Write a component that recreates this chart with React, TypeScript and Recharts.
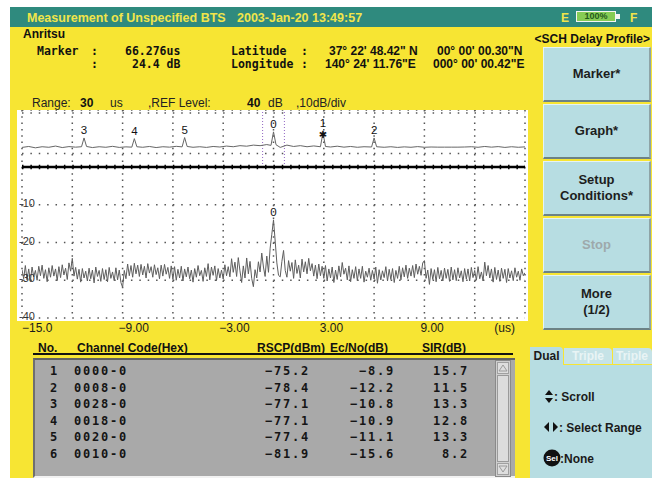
import { LineChart, Line, XAxis, YAxis, CartesianGrid, ReferenceLine } from 'recharts'

// ── delay profile (lower trace), dB, one sample every 0.1 us from -15 us ──────
const SAMPLE_START = -15
const SAMPLE_STEP = 0.1
const profileLevel = [
  -27.2, -29.6, -26.1, -29.9, -27.0, -30.3, -26.5, -29.1, -27.4, -30.0,
  -26.3, -28.8, -26.0, -29.5, -27.2, -30.4, -26.7, -29.2, -26.1, -28.9,
  -27.0, -30.1, -26.4, -29.3, -25.9, -28.6, -26.8, -29.8, -25.4, -27.6,
  -24.2, -28.9, -26.6, -29.7, -27.1, -30.5, -26.9, -29.4, -27.6, -30.2,
  -26.8, -29.6, -27.3, -30.7, -26.5, -29.0, -27.4, -30.3, -26.9, -29.8,
  -27.2, -30.4, -26.6, -29.5, -27.8, -30.1, -26.7, -29.9, -27.3, -30.6,
  -31.9, -27.4, -29.6, -25.7, -28.8, -26.1, -29.2, -25.5, -28.3, -26.0,
  -29.0, -25.8, -28.6, -26.3, -29.4, -25.6, -28.1, -26.4, -29.2, -25.9,
  -28.5, -26.7, -29.6, -26.0, -28.9, -25.8, -28.4, -26.6, -29.5, -26.2,
  -29.8, -26.4, -30.0, -27.1, -29.4, -26.3, -30.2, -27.0, -29.1, -26.5,
  -29.6, -27.3, -30.5, -26.9, -29.2, -26.1, -28.8, -27.4, -30.3, -26.7,
  -29.0, -25.6, -29.9, -26.5, -28.7, -26.2, -30.1, -26.9, -29.4, -27.3,
  -29.7, -25.9, -28.8, -26.4, -29.1, -24.3, -27.9, -25.2, -29.0, -24.0,
  -27.5, -30.6, -26.2, -29.4, -24.1, -28.3, -25.0, -29.5, -31.7, -27.2,
  -29.4, -25.1, -27.8, -22.8, -26.5, -29.0, -23.6, -27.9, -21.5, -17.8,
  -14.0, -19.6, -25.4, -28.7, -29.1, -25.0, -22.1, -27.4, -29.2, -24.8,
  -27.6, -25.3, -29.5, -24.6, -28.2, -26.0, -29.4, -24.4, -27.8, -25.1,
  -28.3, -24.2, -27.5, -25.6, -28.9, -26.0, -29.6, -25.7, -28.8, -26.3,
  -29.5, -26.1, -30.2, -27.0, -29.4, -26.5, -30.6, -27.3, -29.8, -26.2,
  -29.1, -25.3, -28.4, -26.8, -29.9, -26.2, -30.4, -27.2, -29.5, -26.4,
  -30.1, -27.0, -29.5, -26.3, -30.5, -27.6, -29.2, -26.8, -30.0, -27.4,
  -29.7, -26.5, -30.8, -27.2, -29.9, -27.5, -29.3, -26.4, -30.2, -27.1,
  -29.8, -26.9, -30.6, -27.4, -29.5, -26.3, -29.9, -26.7, -29.1, -26.0,
  -29.5, -26.8, -28.9, -26.1, -29.3, -25.7, -28.4, -26.3, -28.7, -25.4,
  -24.8, -29.5, -27.3, -31.1, -26.9, -29.8, -27.2, -30.4, -26.6, -29.6,
  -27.4, -30.2, -26.8, -29.5, -27.1, -30.3, -26.5, -29.9, -27.2, -30.1,
  -26.7, -29.4, -27.5, -30.4, -26.9, -29.7, -27.0, -30.2, -26.6, -29.3,
  -27.4, -30.0, -26.4, -29.6, -27.8, -30.2, -25.2, -28.8, -26.1, -29.4,
  -27.0, -30.5, -26.6, -29.8, -27.3, -30.3, -26.8, -29.5, -27.1, -30.6,
  -26.9, -29.4, -27.5, -30.1, -26.7, -29.2, -27.6, -30.0, -27.0, -28.8,
  -28.0,
]

// ── overview (upper trace), in grid rows above the divider ─────────────────────
const overviewTime = [
  -15, -14.6, -14.2, -13.8, -13.4, -13, -12.6, -12.2, -11.8, -11.45, -11.3, -11.15, -10.8, -10.4, -10, -9.6,
  -9.2, -8.8, -8.45, -8.3, -8.15, -7.8, -7.4, -7, -6.6, -6.2, -5.8, -5.45, -5.3, -5.15, -4.8, -4.4, -4,
  -3.6, -3.2, -2.8, -2.4, -2, -1.6, -1.2, -0.8, -0.4, -0.15, 0, 0.15, 0.4, 0.8, 1.2, 1.6, 2, 2.4, 2.8,
  2.95, 3.1, 3.4, 3.8, 4.2, 4.6, 5, 5.4, 5.85, 6, 6.15, 6.6, 7, 7.4, 7.8, 8.2, 8.6, 9, 9.4, 9.8, 10.2,
  10.6, 11, 11.4, 11.8, 12.2, 12.6, 13, 13.4, 13.8, 14.2, 14.6, 15,
]
const overviewLevel = [
  1.45, 1.52, 1.42, 1.5, 1.46, 1.55, 1.44, 1.51, 1.47, 1.5, 2.15, 1.52, 1.44, 1.5, 1.46, 1.53,
  1.45, 1.49, 1.47, 2.1, 1.5, 1.46, 1.52, 1.44, 1.5, 1.47, 1.53, 1.49, 2.18, 1.52, 1.46, 1.5, 1.45,
  1.52, 1.48, 1.55, 1.5, 1.58, 1.54, 1.62, 1.58, 1.66, 1.6, 2.6, 1.65, 1.45, 1.62, 1.52, 1.58, 1.5, 1.56, 1.5,
  2.55, 1.52, 1.48, 1.54, 1.47, 1.52, 1.46, 1.5, 1.48, 2.15, 1.5, 1.46, 1.5, 1.45, 1.49, 1.46, 1.51, 1.46, 1.48, 1.47, 1.47,
  1.47, 1.47, 1.48, 1.5, 1.46, 1.52, 1.47, 1.51, 1.45, 1.5, 1.46, 1.49,
]
const peakTime = [-11.3, -8.3, -5.3, 0, 2.95, 6]
const peakName = ['3', '4', '5', '0', '1', '2']
const MARKED_PEAK = '1'
const rangeEdges = [-0.65, 0.65]

// ── axes ─────────────────────────────────────────────────────────────────────
const gridTicks = [-15, -12, -9, -6, -3, 0, 3, 6, 9, 12, 15]
const timeTicks = [-15, -9, -3, 3, 9, 15]
const timeLabels = ['−15.0', '−9.00', '−3.00', '3.00', '9.00', '(us)']
const levelTicks = [-40, -30, -20, -10]
const levelLabels = ['-40', '-30', '-20', '-10']
const overviewRows = [1, 2, 3, 4]

// ── channel table ────────────────────────────────────────────────────────────
const rowNo = [1, 2, 3, 4, 5, 6]
const channelCode = ['0000-0', '0008-0', '0028-0', '0018-0', '0020-0', '0010-0']
const rscp = [-75.2, -78.4, -77.1, -77.1, -77.4, -81.9]
const ecno = [-8.9, -12.2, -10.8, -10.9, -11.1, -15.6]
const sir = [15.7, 11.5, 13.3, 12.8, 13.3, 8.2]

const buttons = ['Marker*', 'Graph*', 'Setup\nConditions*', 'Stop', 'More\n(1/2)']

const YELLOW = '#f7e533'
const TEAL = '#2f8a7e'
const BTN = '#b7dde2'
const SANS = '"Liberation Sans", Arial, sans-serif'
const MONO = '"DejaVu Sans Mono", monospace'
const DOT = '#555'

const profileData = profileLevel.map((v, i) => ({ t: Math.round((SAMPLE_START + i * SAMPLE_STEP) * 10) / 10, v }))
const overviewData = overviewTime.map((t, i) => ({ t, v: overviewLevel[i] }))
const profilePeakIdx = profileLevel.indexOf(Math.max(...profileLevel))

const fmt = (v: number) => (v < 0 ? '−' : '') + Math.abs(v).toFixed(1)

function TimeTick({ x, y, payload }: any) {
  const i = timeTicks.indexOf(payload.value)
  const last = i === timeTicks.length - 1
  return (
    <text x={x} y={y} dx={last ? -10 : i === 0 ? 0 : -4} dy={13.5} textAnchor={last ? 'end' : 'start'}
      fontSize={12} fontFamily={SANS} fill="#1a1a1a">
      {timeLabels[i]}
    </text>
  )
}

function LevelTick({ x, y, payload }: any) {
  const i = levelTicks.indexOf(payload.value)
  return (
    <text x={x} y={y} dx={-3} dy={2} textAnchor="start" fontSize={11} fontFamily={SANS} fill="#333">
      {levelLabels[i]}
    </text>
  )
}

const renderOverviewLabel = (props: any) => {
  const k = peakTime.indexOf(overviewTime[props.index])
  if (k < 0) return null
  const name = peakName[k]
  return (
    <g>
      <text x={props.x} y={props.y - (name === MARKED_PEAK ? 6 : 4)} textAnchor="middle" fontSize={11.5} fontFamily={SANS} fill="#111">
        {name}
      </text>
      {name === MARKED_PEAK && (
        <text x={props.x} y={props.y + 5} textAnchor="middle" fontSize={10} fontFamily='"DejaVu Sans"' fill="#111">✱</text>
      )}
    </g>
  )
}

const renderProfileLabel = (props: any) => {
  if (props.index !== profilePeakIdx) return null
  return (
    <text x={props.x} y={props.y - 4} textAnchor="middle" fontSize={11.5} fontFamily={SANS} fill="#111">0</text>
  )
}

function Txt({ x, y, children, style }: any) {
  return <div style={{ position: 'absolute', left: x, top: y, whiteSpace: 'pre', lineHeight: '13px', ...style }}>{children}</div>
}

export default function App() {
  const info = { font: `bold 11.5px ${MONO}`, color: '#111' }
  const coord = { font: `bold 12px ${SANS}`, color: '#111' }
  const range = { font: `12px ${SANS}`, color: '#222' }
  const head = { font: `bold 12px ${SANS}`, color: '#111' }
  const cell = { font: `bold 12px ${MONO}`, color: '#151515', letterSpacing: '1.8px' }
  const panel = { font: `bold 12px ${SANS}`, color: '#1a1a1a' }

  return (
    <div style={{ position: 'absolute', left: 0, top: 0, width: 659, height: 481, background: '#fff', overflow: 'hidden' }}>
      {/* frame */}
      <div style={{ position: 'absolute', left: 10, top: 7, width: 642, height: 20, background: TEAL }} />
      <div style={{ position: 'absolute', left: 10, top: 27, width: 642, height: 451, background: YELLOW }} />

      {/* title bar */}
      <Txt x={27} y={11} style={{ font: `bold 12.5px ${SANS}`, color: '#f1e54a' }}>Measurement of Unspecified BTS</Txt>
      <Txt x={237} y={11} style={{ font: `bold 12.5px ${SANS}`, color: '#f1e54a' }}>2003-Jan-20 13:49:57</Txt>
      <Txt x={561} y={11} style={{ font: `bold 12px ${SANS}`, color: '#f1e54a' }}>E</Txt>
      <div style={{ position: 'absolute', left: 576, top: 11, width: 40, height: 11, boxSizing: 'border-box', border: '1px solid #f4f4f4', background: '#86cc55', font: `bold 9px ${SANS}`, color: '#245a1c', textAlign: 'center', lineHeight: '9px' }}>100%</div>
      <div style={{ position: 'absolute', left: 616, top: 14, width: 4, height: 5, background: '#f4f4f4' }} />
      <Txt x={630} y={11} style={{ font: `bold 12px ${SANS}`, color: '#f1e54a' }}>F</Txt>

      {/* header info */}
      <Txt x={23} y={27} style={{ font: `bold 12px ${SANS}`, color: '#111' }}>Anritsu</Txt>
      <Txt x={37} y={44} style={info}>Marker</Txt>
      <Txt x={91} y={44} style={info}>:</Txt>
      <Txt x={125} y={44} style={info}>66.276us</Txt>
      <Txt x={91} y={57} style={info}>:</Txt>
      <Txt x={132} y={57} style={info}>24.4 dB</Txt>
      <Txt x={231} y={44} style={info}>Latitude</Txt>
      <Txt x={301} y={44} style={info}>:</Txt>
      <Txt x={329} y={44} style={coord}>37° 22' 48.42" N</Txt>
      <Txt x={437} y={44} style={coord}>00° 00' 00.30"N</Txt>
      <Txt x={231} y={57} style={info}>Longitude</Txt>
      <Txt x={301} y={57} style={info}>:</Txt>
      <Txt x={325} y={57} style={coord}>140° 24' 11.76"E</Txt>
      <Txt x={433} y={57} style={coord}>000° 00' 00.42"E</Txt>
      <Txt x={530} y={32} style={{ font: `bold 12px ${SANS}`, color: '#111', width: 120, textAlign: 'right' }}>{'<SCH Delay Profile>'}</Txt>

      <Txt x={32} y={96} style={range}>Range:</Txt>
      <Txt x={80} y={96} style={{ ...range, fontWeight: 'bold', color: '#111' }}>30</Txt>
      <Txt x={110} y={96} style={range}>us</Txt>
      <Txt x={148} y={96} style={range}>,REF Level:</Txt>
      <Txt x={247} y={96} style={{ ...range, fontWeight: 'bold', color: '#111' }}>40</Txt>
      <Txt x={268} y={96} style={range}>dB</Txt>
      <Txt x={296} y={96} style={range}>,10dB/div</Txt>

      {/* soft keys */}
      {buttons.map((b, i) => (
        <div key={b} style={{
          position: 'absolute', left: 543, top: 47 + i * 57, width: 108, height: 55, boxSizing: 'border-box',
          background: BTN, borderTop: '1px solid #e6f3f4', borderLeft: '1px solid #e6f3f4',
          borderBottom: '2px solid #6c8285', borderRight: '2px solid #8ea4a7',
          display: 'flex', alignItems: 'center', justifyContent: 'center', textAlign: 'center', whiteSpace: 'pre',
          font: `bold 13px ${SANS}`, lineHeight: '16px', color: b === 'Stop' ? '#9ea9ab' : '#1d1d1d',
        }}>{b}</div>
      ))}

      {/* plot area */}
      <div style={{ position: 'absolute', left: 17, top: 110, width: 511, height: 211, background: '#fff' }} />

      <div style={{ position: 'absolute', left: 19, top: 110 }}>
        <LineChart width={508} height={57} data={overviewData} margin={{ top: 0, right: 2, bottom: 0, left: 3 }}>
          <XAxis dataKey="t" type="number" domain={[-15, 15]} ticks={gridTicks} hide allowDataOverflow />
          <YAxis type="number" domain={[0, 4.22]} ticks={overviewRows} hide allowDataOverflow />
          <CartesianGrid vertical={false} stroke={DOT} strokeWidth={1.5} strokeDasharray="1.5 6.88" />
          <CartesianGrid horizontal={false} stroke={DOT} strokeWidth={1.5} strokeDasharray="1.5 4.8" />
          {rangeEdges.map(x => (
            <ReferenceLine key={x} x={x} stroke="#9166c2" strokeWidth={1} strokeDasharray="1 2" />
          ))}
          <Line type="linear" dataKey="v" stroke="#666" strokeWidth={1} dot={false} isAnimationActive={false}
            label={renderOverviewLabel as any} />
        </LineChart>
      </div>

      <div style={{ position: 'absolute', left: 19, top: 164 }}>
        <LineChart width={508} height={176} data={profileData} margin={{ top: 3, right: 2, bottom: 0, left: 2 }}>
          <XAxis dataKey="t" type="number" domain={[-15, 15]} ticks={timeTicks} interval={0} height={22}
            tick={<TimeTick />} tickLine={false} axisLine={false} tickSize={0} tickMargin={0} allowDataOverflow />
          <XAxis xAxisId="grid" dataKey="t" type="number" domain={[-15, 15]} ticks={gridTicks} hide allowDataOverflow />
          <YAxis type="number" domain={[-40, 0]} ticks={levelTicks} interval={0} width={1}
            tick={<LevelTick />} tickLine={false} axisLine={false} tickSize={0} tickMargin={0} allowDataOverflow />
          <CartesianGrid vertical={false} stroke={DOT} strokeWidth={1.5} strokeDasharray="1.5 6.88" />
          <CartesianGrid horizontal={false} xAxisId="grid" stroke={DOT} strokeWidth={1.5} strokeDasharray="1.5 4.8" />
          <ReferenceLine y={0} stroke="#000" strokeWidth={2.5} />
          <ReferenceLine y={0} stroke="#000" strokeWidth={4.5} strokeDasharray="1.5 6.88" />
          <Line type="linear" dataKey="v" stroke="#5e5e5e" strokeWidth={1} dot={false} isAnimationActive={false}
            label={renderProfileLabel as any} />
        </LineChart>
      </div>

      {/* channel table */}
      <Txt x={38} y={341} style={head}>No.</Txt>
      <Txt x={77} y={341} style={head}>Channel Code(Hex)</Txt>
      <Txt x={257} y={341} style={head}>RSCP(dBm)</Txt>
      <Txt x={330} y={341} style={head}>Ec/No(dB)</Txt>
      <Txt x={422} y={341} style={head}>SIR(dB)</Txt>
      <div style={{ position: 'absolute', left: 33, top: 353, width: 480, height: 1.5, background: '#111' }} />

      <div style={{ position: 'absolute', left: 33, top: 358, width: 482, height: 120, boxSizing: 'border-box', background: '#a9a9a9', borderTop: '2px solid #616161', borderLeft: '2px solid #6f6f6f', borderBottom: '2px solid #f2f2f2' }} />
      {rowNo.map((n, i) => {
        const top = 364 + i * 16.6
        return (
          <div key={n}>
            <Txt x={50} y={top} style={cell}>{n}</Txt>
            <Txt x={74} y={top} style={cell}>{channelCode[i]}</Txt>
            <Txt x={220} y={top} style={{ ...cell, width: 90, textAlign: 'right' }}>{fmt(rscp[i])}</Txt>
            <Txt x={305} y={top} style={{ ...cell, width: 90, textAlign: 'right' }}>{fmt(ecno[i])}</Txt>
            <Txt x={400} y={top} style={{ ...cell, width: 69, textAlign: 'right' }}>{fmt(sir[i])}</Txt>
          </div>
        )
      })}
      <svg style={{ position: 'absolute', left: 495, top: 360 }} width={16} height={117}>
        <rect x={0.5} y={0.5} width={15} height={116} fill="#cfcfcf" stroke="#8a8a8a" />
        <rect x={2.5} y={2.5} width={11} height={11} fill="#dedede" stroke="#a0a0a0" />
        <path d="M4 11 L8 5 L12 11 Z" fill="none" stroke="#9a9a9a" />
        <rect x={2.5} y={15.5} width={11} height={86} fill="#dcdcdc" stroke="#9a9a9a" />
        <rect x={2.5} y={103.5} width={11} height={11} fill="#dedede" stroke="#a0a0a0" />
        <path d="M4 106 L8 112 L12 106 Z" fill="none" stroke="#9a9a9a" />
      </svg>

      {/* view tabs & key help */}
      <div style={{ position: 'absolute', left: 530, top: 347, width: 33, height: 18, background: BTN, borderTopRightRadius: 4, font: `bold 12px ${SANS}`, color: '#1a1a1a', textAlign: 'center', lineHeight: '18px' }}>Dual</div>
      <div style={{ position: 'absolute', left: 564, top: 348, width: 48, height: 16, background: '#c6e3e7', borderTopRightRadius: 4, font: `bold 12px ${SANS}`, color: '#e9f4f5', textAlign: 'center', lineHeight: '17px' }}>Triple</div>
      <div style={{ position: 'absolute', left: 613, top: 348, width: 39, height: 16, background: '#c6e3e7', borderTopRightRadius: 4, font: `bold 12px ${SANS}`, color: '#e9f4f5', textAlign: 'left', paddingLeft: 3, boxSizing: 'border-box', lineHeight: '17px', overflow: 'hidden' }}>Triple</div>
      <div style={{ position: 'absolute', left: 530, top: 365, width: 122, height: 113, background: BTN }} />

      <svg style={{ position: 'absolute', left: 544, top: 389 }} width={10} height={15}>
        <path d="M1 6 L5 1 L9 6 Z" fill="#111" />
        <path d="M1 9 L5 14 L9 9 Z" fill="#111" />
      </svg>
      <Txt x={554} y={390} style={panel}>: Scroll</Txt>
      <svg style={{ position: 'absolute', left: 543, top: 421 }} width={16} height={12}>
        <path d="M6 1 L1 6 L6 11 Z" fill="#111" />
        <path d="M10 1 L15 6 L10 11 Z" fill="#111" />
      </svg>
      <Txt x={559} y={421} style={panel}>: Select Range</Txt>
      <svg style={{ position: 'absolute', left: 543, top: 449 }} width={18} height={18}>
        <circle cx={9} cy={9} r={8.5} fill="#111" />
        <text x={9} y={12} textAnchor="middle" fontSize={8} fontWeight="bold" fontFamily={SANS} fill="#fff">Sel</text>
      </svg>
      <Txt x={560} y={452} style={panel}>:None</Txt>
    </div>
  )
}
